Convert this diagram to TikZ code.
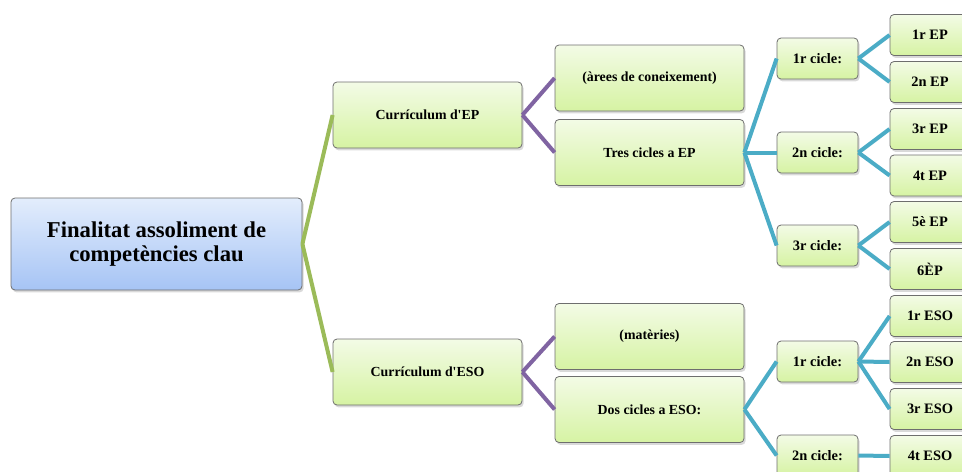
\documentclass[tikz,border=0pt]{standalone}
\usepackage{fontspec}
\setmainfont{Liberation Serif}
\usetikzlibrary{shadows}

\definecolor{rootline}{HTML}{9BBB59}
\definecolor{midline}{HTML}{8064A2}
\definecolor{leafline}{HTML}{4BACC6}
\definecolor{greentop}{HTML}{F3FBE6}
\definecolor{greenbot}{HTML}{D6F3A3}
\definecolor{bluetop}{HTML}{E3EDFC}
\definecolor{bluebot}{HTML}{A6C4F5}
\definecolor{boxedge}{HTML}{6E6E6E}

\tikzset{
  topic/.style={rectangle, rounded corners=3pt, draw=boxedge, line width=0.6pt,
    top color=greentop, bottom color=greenbot,
    drop shadow={opacity=0.3, shadow xshift=1.2pt, shadow yshift=-1.8pt},
    font=\bfseries\fontsize{10.4}{12}\selectfont, align=center, inner sep=0pt},
  bigtopic/.style={topic, minimum width=141.75pt, minimum height=49.5pt},
  ciclebox/.style={topic, minimum width=60.75pt, minimum height=30.75pt,
    font=\bfseries\fontsize{10.8}{12}\selectfont},
  leafbox/.style={topic, minimum width=60pt, minimum height=30.75pt,
    font=\bfseries\fontsize{10.8}{12}\selectfont},
  rootbox/.style={topic, top color=bluetop, bottom color=bluebot,
    minimum width=218.25pt, minimum height=69pt,
    font=\bfseries\fontsize{17}{17.5}\selectfont},
  branch/.style={line width=3pt}
}

\begin{document}
\begin{tikzpicture}[x=0.75pt, y=-0.75pt]

    % Fix the page and cut off what runs past the right edge
    \useasboundingbox (0,0) rectangle (962,471);
    \clip (0,0) rectangle (962,471);

    % The central topic
    \node[rootbox] (root) at (156.5,244) {Finalitat assoliment de\\competències clau};

    % First level
    \node[bigtopic] (ep) at (427.5,115) {Currículum d\textquotesingle EP};
    \node[bigtopic] (eso) at (427.5,372) {Currículum d\textquotesingle ESO};

    % Second level
    \node[bigtopic] (arees) at (649.5,78) {(àrees de coneixement)};
    \node[bigtopic] (tresep) at (649.5,152.5) {Tres cicles a EP};
    \node[bigtopic] (materies) at (649.5,336.5) {(matèries)};
    \node[bigtopic] (doseso) at (649.5,409.5) {Dos cicles a ESO:};

    % The cycles
    \node[ciclebox] (ep1) at (817.5,58.5) {1r cicle:};
    \node[ciclebox] (ep2) at (817.5,152.5) {2n cicle:};
    \node[ciclebox] (ep3) at (817.5,245.5) {3r cicle:};
    \node[ciclebox] (eso1) at (817.5,361.5) {1r cicle:};
    \node[ciclebox] (eso2) at (817.5,455.5) {2n cicle:};

    % The courses
    \foreach \name/\y/\txt in {c1/35/1r EP, c2/82/2n EP, c3/129/3r EP,
        c4/175.5/4t EP, c5/222/5è EP, c6/269/6ÈP, s1/316/1r ESO,
        s2/362/2n ESO, s3/409/3r ESO, s4/456/4t ESO}
      \node[leafbox] (\name) at (930,\y) {\txt};

    % Green branches from the centre
    \foreach \b in {ep, eso}
      \draw[branch, rootline] (root.east) -- (\b.west);

    % Purple branches
    \draw[branch, midline] (ep.east) -- (arees.west);
    \draw[branch, midline] (ep.east) -- (tresep.west);
    \draw[branch, midline] (eso.east) -- (materies.west);
    \draw[branch, midline] (eso.east) -- (doseso.west);

    % Blue branches to the cycles and the courses
    \foreach \a/\b in {tresep/ep1, tresep/ep2, tresep/ep3, doseso/eso1,
        doseso/eso2, ep1/c1, ep1/c2, ep2/c3, ep2/c4, ep3/c5, ep3/c6,
        eso1/s1, eso1/s2, eso1/s3, eso2/s4}
      \draw[branch, leafline] (\a.east) -- (\b.west);
  \end{tikzpicture}
\end{document}
